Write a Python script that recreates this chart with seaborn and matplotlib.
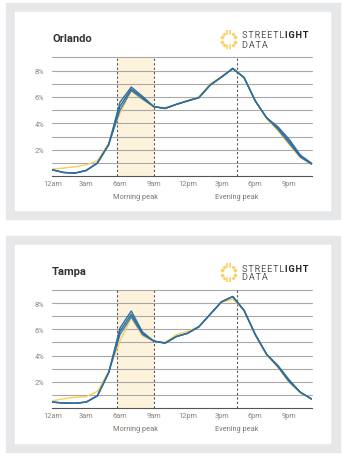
import matplotlib
matplotlib.use('Agg')
import matplotlib.pyplot as plt
import matplotlib.patches as mpatches
import seaborn as sns
import pandas as pd

hours = list(range(24))
tick_hours = [0, 3, 6, 9, 12, 15, 18, 21]
tick_labels = ['12am', '3am', '6am', '9am', '12pm', '3pm', '6pm', '9pm']
morning_peak = (5.7, 9.05)
evening_peak = 16.35

orlando_yellow = [0.54, 0.62, 0.72, 0.87, 1.18, 2.5, 4.8, 6.45, 5.8, 5.25, 5.2, 5.45,
                  5.75, 6.0, 7.0, 7.55, 8.2, 7.5, 5.65, 4.35, 3.45, 2.4, 1.4, 0.9]
orlando_blue_lo = [0.49, 0.29, 0.24, 0.44, 1.0, 2.4, 5.0, 6.5, 5.85, 5.27, 5.13, 5.44,
                   5.7, 5.95, 6.9, 7.5, 8.15, 7.47, 5.7, 4.43, 3.55, 2.5, 1.45, 0.92]
orlando_blue_mid = [0.49, 0.29, 0.24, 0.44, 1.0, 2.4, 5.3, 6.6, 5.95, 5.27, 5.13, 5.44,
                    5.7, 5.95, 6.9, 7.5, 8.15, 7.47, 5.7, 4.43, 3.65, 2.65, 1.52, 0.95]
orlando_blue_hi = [0.49, 0.29, 0.24, 0.44, 1.0, 2.4, 5.6, 6.75, 6.05, 5.27, 5.13, 5.44,
                   5.7, 5.95, 6.9, 7.5, 8.15, 7.47, 5.7, 4.43, 3.75, 2.8, 1.6, 0.98]

tampa_yellow = [0.55, 0.7, 0.82, 0.86, 1.27, 2.8, 5.1, 6.9, 5.5, 5.1, 5.0, 5.6,
                5.85, 6.2, 7.15, 8.05, 8.3, 7.45, 5.55, 4.05, 3.1, 1.95, 1.15, 0.7]
tampa_blue_lo = [0.45, 0.38, 0.36, 0.45, 0.93, 2.7, 5.6, 6.95, 5.6, 5.1, 4.95, 5.45,
                 5.7, 6.2, 7.15, 8.1, 8.5, 7.45, 5.6, 4.1, 3.15, 2.0, 1.2, 0.68]
tampa_blue_mid = [0.45, 0.38, 0.36, 0.45, 0.93, 2.7, 5.85, 7.15, 5.7, 5.1, 4.95, 5.45,
                  5.7, 6.2, 7.15, 8.1, 8.5, 7.45, 5.6, 4.1, 3.2, 2.08, 1.2, 0.68]
tampa_blue_hi = [0.45, 0.38, 0.36, 0.45, 0.93, 2.7, 6.1, 7.4, 5.8, 5.1, 4.95, 5.45,
                 5.7, 6.2, 7.15, 8.1, 8.5, 7.45, 5.6, 4.1, 3.25, 2.15, 1.2, 0.68]

palette = {'yellow': '#f7cf5a', 'blue_lo': '#3d7fb0', 'blue_mid': '#2a6896', 'blue_hi': '#316fa0'}
W, H = 358, 464
text_gray = '#8a817b'
HAIR = '\u200a'

sns.set_style('white')
plt.rcParams['font.family'] = ['Roboto', 'DejaVu Sans']

fig = plt.figure(figsize=(W / 100, H / 100), dpi=100)
fig.patch.set_facecolor('white')


def px_rect(x0, y0, x1, y1, color):
    fig.patches.append(mpatches.Rectangle((x0 / W, 1 - y1 / H), (x1 - x0) / W, (y1 - y0) / H,
                                          transform=fig.transFigure, color=color, zorder=-5))


def draw_logo(x0, y0):
    ax_logo = fig.add_axes([x0 / W, 1 - (y0 + 19) / H, 19 / W, 19 / H])
    ax_logo.set_xlim(-1, 1)
    ax_logo.set_ylim(-1, 1)
    ax_logo.axis('off')
    c = '#f7cf5a'
    for dx in (-0.15, 0.15):
        ax_logo.plot([dx, dx], [0.55, 0.95], color=c, lw=1.2)
        ax_logo.plot([dx, dx], [-0.95, -0.55], color=c, lw=1.2)
    for sx in (-1, 1):
        for sy in (0.25, -0.25):
            ax_logo.scatter([sx * 0.7], [sy], marker='D', s=5, color=c, lw=0)
            ax_logo.scatter([sx * 0.45], [sy * 2.4], marker='D', s=4, color=c, lw=0)
    t = fig.text((x0 + 23) / W, 1 - (y0 + 5) / H, HAIR.join('STREETL') + HAIR,
                 fontsize=6.6, color='#555555', va='center')
    ann = plt.Annotation(HAIR.join('IGHT'), xy=(1, 0.5), xycoords=t, va='center', ha='left',
                         fontsize=6.6, fontweight='bold', color='#222222')
    ann.set_figure(fig)
    fig.texts.append(ann)
    fig.text((x0 + 23) / W, 1 - (y0 + 14) / H, HAIR.join('DATA'), fontsize=6.6, color='#555555', va='center')


def draw_panel(top, city, yellow, lo, mid, hi, ax_top, ax_bottom):
    px_rect(6, top, 340, top + 216, '#e6e7e8')
    px_rect(15, top + 9, 330, top + 207, 'white')
    fig.text(52 / W, 1 - (top + 35) / H, city, fontsize=8, fontweight='bold', color='#333333', va='center')
    draw_logo(219, top + 27)

    ax = fig.add_axes([52.3 / W, 1 - ax_bottom / H, 259.4 / W, (ax_bottom - ax_top) / H])
    ax.set_facecolor('none')
    df = pd.DataFrame({
        'hour': hours * 4,
        'pct': yellow + lo + mid + hi,
        'series': ['yellow'] * 24 + ['blue_lo'] * 24 + ['blue_mid'] * 24 + ['blue_hi'] * 24,
    })
    ax.axvspan(*morning_peak, color='#fdf2dc', lw=0, zorder=0)
    for y in range(1, 10):
        ax.axhline(y, color='#a8a8a8', lw=0.8, zorder=1, clip_on=False)
    for x in (*morning_peak, evening_peak):
        ax.axvline(x, color='#555555', lw=0.8, ls=(0, (2, 2)), zorder=2)
    sns.lineplot(data=df, x='hour', y='pct', hue='series', palette=palette, legend=False,
                 ax=ax, lw=1.0, zorder=3)
    ax.set_xlim(0, 23)
    ax.set_ylim(0, 9)
    ax.set_yticks([2, 4, 6, 8])
    ax.set_yticklabels(['2%', '4%', '6%', '8%'])
    ax.set_xticks(tick_hours)
    ax.set_xticklabels(tick_labels)
    ax.tick_params(length=0, labelsize=5.3, labelcolor=text_gray)
    ax.tick_params(axis='y', pad=6)
    ax.tick_params(axis='x', pad=3)
    ax.set_xlabel('')
    ax.set_ylabel('')
    for s in ('top', 'left', 'right'):
        ax.spines[s].set_visible(False)
    ax.spines['bottom'].set_color('#555555')
    ax.spines['bottom'].set_linewidth(0.8)
    ax.annotate('Morning peak', xy=(sum(morning_peak) / 2, 0), xycoords=('data', 'axes fraction'),
                xytext=(0, -14.5), textcoords='offset points', ha='center', va='center',
                fontsize=5.3, color='#7d7670')
    ax.annotate('Evening peak', xy=(evening_peak, 0), xycoords=('data', 'axes fraction'),
                xytext=(0, -14.5), textcoords='offset points', ha='center', va='center',
                fontsize=5.3, color='#7d7670')


draw_panel(4, 'Orlando', orlando_yellow, orlando_blue_lo, orlando_blue_mid, orlando_blue_hi, 58.3, 177.3)
draw_panel(237, 'Tampa', tampa_yellow, tampa_blue_lo, tampa_blue_mid, tampa_blue_hi, 291, 409)

fig.savefig('out.png', dpi=100)
